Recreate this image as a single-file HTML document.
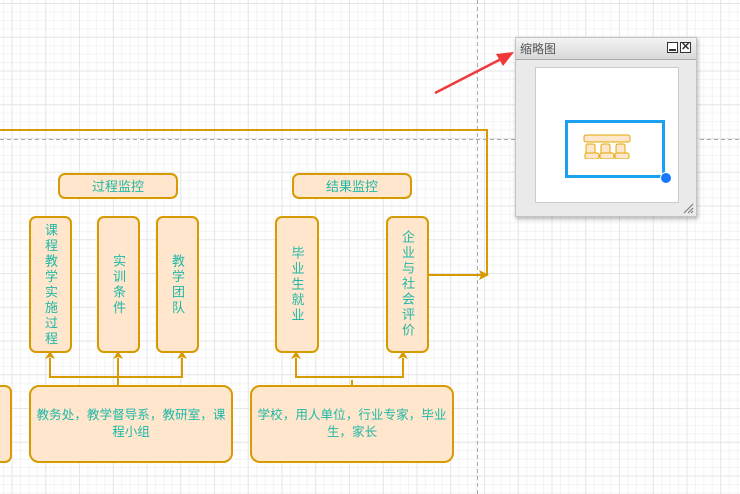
<!DOCTYPE html>
<html><head><meta charset="utf-8"><style>
body{margin:0;width:740px;height:494px;overflow:hidden;background:#fff;font-family:"Liberation Sans","Noto Sans CJK SC",sans-serif;position:relative}
.grid{position:absolute;inset:0;background-image:
linear-gradient(to right,#e6e6e6 1px,transparent 1px),linear-gradient(to bottom,#e6e6e6 1px,transparent 1px),
linear-gradient(to right,#f4f4f4 1px,transparent 1px),linear-gradient(to bottom,#f4f4f4 1px,transparent 1px);
background-size:33.75px 33.75px,33.75px 33.75px,8.44px 8.44px,8.44px 8.44px;background-position:11.5px 3px,11.5px 3px,11.5px 3px,11.5px 3px}
.b{position:absolute;box-sizing:border-box;background:#ffe6cc;border:2px solid #d79b00;border-radius:7px;color:#1fb8a8;font-size:13px;display:flex;align-items:center;justify-content:center;text-align:center;line-height:17px}
.v{writing-mode:vertical-rl;text-orientation:upright;letter-spacing:2.5px;line-height:1;font-size:13px}
.w{font-size:12.6px;line-height:17px;padding:0 1px}
</style></head><body>
<div class="grid"></div>
<svg style="position:absolute;left:0;top:0" width="740" height="494">
<line x1="477.5" y1="0" x2="477.5" y2="494" stroke="#aaa" stroke-dasharray="4,3"/>
<line x1="0" y1="139.5" x2="740" y2="139.5" stroke="#aaa" stroke-dasharray="4,3"/>
<g stroke="#d79b00" stroke-width="2" fill="none">
<polyline points="0,130 487,130 487,275"/>
<line x1="428" y1="275" x2="482" y2="275"/>
<polyline points="50,358 50,377 182,377 182,358"/>
<line x1="118" y1="385" x2="118" y2="358"/>
<polyline points="296,358 296,377 403,377 403,358"/>
<line x1="352" y1="380" x2="352" y2="385"/>
</g>
<g fill="#d79b00">
<polygon points="489,275 479,270 481,275 479,280"/>
<polygon points="50,351 45,359 50,357 55,359"/>
<polygon points="118,351 113,359 118,357 123,359"/>
<polygon points="182,351 177,359 182,357 187,359"/>
<polygon points="296,351 291,359 296,357 301,359"/>
<polygon points="403,351 398,359 403,357 408,359"/>
</g>
<line x1="435" y1="93" x2="505" y2="57" stroke="#f03a3a" stroke-width="2.5"/>
<polygon points="514,52 496,54 503,66" fill="#f03a3a"/>
</svg>
<div class="b" style="left:58px;top:173px;width:120px;height:26px">过程监控</div>
<div class="b" style="left:292px;top:173px;width:120px;height:26px">结果监控</div>
<div class="b" style="left:29px;top:216px;width:43px;height:137px"><span class="v">课程教学实施过程</span></div>
<div class="b" style="left:97px;top:216px;width:43px;height:137px"><span class="v">实训条件</span></div>
<div class="b" style="left:156px;top:216px;width:43px;height:137px"><span class="v">教学团队</span></div>
<div class="b" style="left:275px;top:216px;width:44px;height:137px"><span class="v">毕业生就业</span></div>
<div class="b" style="left:386px;top:216px;width:43px;height:137px"><span class="v">企业与社会评价</span></div>
<div class="b" style="left:-20px;top:385px;width:32px;height:78px"></div>
<div class="b w" style="left:29px;top:385px;width:204px;height:78px;border-radius:10px">教务处，教学督导系，教研室，课程小组</div>
<div class="b w" style="left:250px;top:385px;width:204px;height:78px;border-radius:10px">学校，用人单位，行业专家，毕业生，家长</div>
<div style="position:absolute;left:515px;top:37px;width:182px;height:180px;box-sizing:border-box;background:#eaeaea;border:1px solid #c4c4c4;box-shadow:1px 2px 4px rgba(0,0,0,.3)">
<div style="height:21px;background:linear-gradient(#f4f4f4,#d8d8d8);border-bottom:1px solid #aaa;font-size:12px;color:#555;line-height:22px;padding-left:4px">缩略图
<span style="position:absolute;right:18px;top:4px;width:11px;height:11px;border:1px solid #333;box-sizing:border-box;background:#fff"><span style="position:absolute;left:1px;right:1px;bottom:1px;height:2px;background:#333"></span></span>
<span style="position:absolute;right:5px;top:4px;width:11px;height:11px;border:1px solid #333;box-sizing:border-box;background:#fff;font-size:11px;line-height:9px;text-align:center;font-weight:bold;color:#333">✕</span></div>
<div style="position:absolute;left:19px;top:29px;width:144px;height:136px;background:#fff;border:1px solid #ccc;box-sizing:border-box"></div>
<div style="position:absolute;left:49px;top:82px;width:100px;height:58px;border:3px solid #1ba1f2;box-sizing:border-box"></div>
<div style="position:absolute;left:144px;top:134px;width:10px;height:10px;border-radius:50%;background:#1677ff;border:1px solid #fff"></div>
<svg style="position:absolute;left:65px;top:96px" width="50" height="25"><g fill="#ffe6cc" stroke="#e0a800" stroke-width="1"><rect x="3" y="1" width="46" height="7" rx="2"/><rect x="5" y="10" width="9" height="14" rx="2"/><rect x="20" y="10" width="9" height="14" rx="2"/><rect x="35" y="10" width="9" height="14" rx="2"/><rect x="4" y="19" width="14" height="6" rx="2"/><rect x="19" y="19" width="14" height="6" rx="2"/><rect x="34" y="19" width="14" height="6" rx="2"/></g></svg>
<svg style="position:absolute;right:2px;bottom:2px" width="12" height="12"><g stroke="#777"><line x1="2" y1="11" x2="11" y2="2"/><line x1="6" y1="11" x2="11" y2="6"/><line x1="9" y1="11" x2="11" y2="9"/></g></svg>
</div>
</body></html>
